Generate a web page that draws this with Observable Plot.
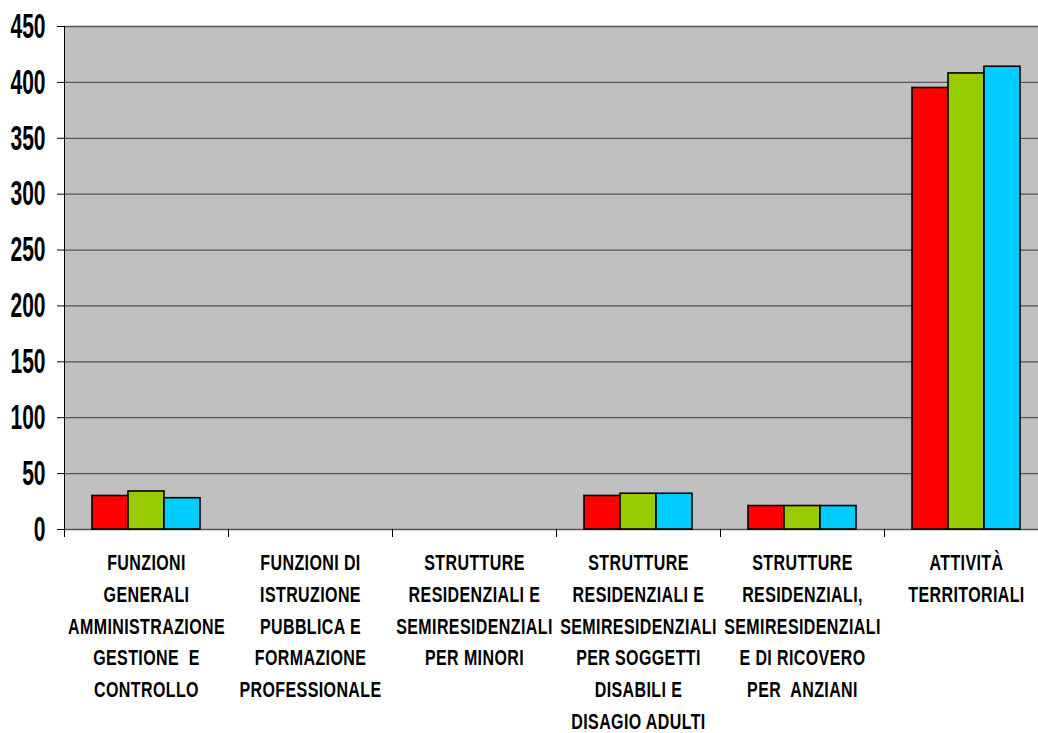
<!DOCTYPE html>
<html>
<head>
<meta charset="utf-8">
<script src="https://cdn.jsdelivr.net/npm/d3@7"></script>
<script src="https://cdn.jsdelivr.net/npm/@observablehq/plot@0.6"></script>
<style>
  html, body { margin: 0; padding: 0; background: #fff; overflow: hidden; }
</style>
</head>
<body>
<div id="chart"></div>
<script>
const categories = [
  "Funzioni generali amministrazione gestione e controllo",
  "Funzioni di istruzione pubblica e formazione professionale",
  "Strutture residenziali e semiresidenziali per minori",
  "Strutture residenziali e semiresidenziali per soggetti disabili e disagio adulti",
  "Strutture residenziali, semiresidenziali e di ricovero per anziani",
  "Attività territoriali"
];
const categoryLabels = [
  "FUNZIONI\nGENERALI\nAMMINISTRAZIONE\nGESTIONE  E\nCONTROLLO",
  "FUNZIONI DI\nISTRUZIONE\nPUBBLICA E\nFORMAZIONE\nPROFESSIONALE",
  "STRUTTURE\nRESIDENZIALI E\nSEMIRESIDENZIALI\nPER MINORI",
  "STRUTTURE\nRESIDENZIALI E\nSEMIRESIDENZIALI\nPER SOGGETTI\nDISABILI E\nDISAGIO ADULTI",
  "STRUTTURE\nRESIDENZIALI,\nSEMIRESIDENZIALI\nE DI RICOVERO\nPER  ANZIANI",
  "ATTIVITÀ\nTERRITORIALI"
];
const seriesNames = ["Serie 1", "Serie 2", "Serie 3"];
const seriesColors = ["#FF0000", "#99CC00", "#00CCFF"];
const serie1 = [30, 0, 0, 30, 21, 395];
const serie2 = [34, 0, 0, 32, 21, 408];
const serie3 = [28, 0, 0, 32, 21, 414];
const yTicks = [0, 50, 100, 150, 200, 250, 300, 350, 400, 450];

const seriesValues = [serie1, serie2, serie3];
const data = categories.flatMap((c, i) =>
  seriesNames.map((s, j) => ({cat: c, series: s, value: seriesValues[j][i]}))
);
const labelOf = Object.fromEntries(categories.map((c, i) => [c, categoryLabels[i]]));

const W = 1048, H = 733, mT = 26, mB = 204, mL = 64, mR = 0;
const innerH = H - mT - mB;

const svg = Plot.plot({
  width: W,
  height: H,
  marginLeft: mL,
  marginRight: mR,
  marginTop: mT,
  marginBottom: mB,
  style: {fontFamily: "'Liberation Sans', Arial, sans-serif", background: "#fff", color: "#000"},
  fx: {domain: categories, padding: 0, round: true, axis: null, label: null},
  x: {domain: seriesNames, paddingInner: 0, paddingOuter: 0.75, axis: null},
  y: {domain: [0, 450], axis: null},
  color: {domain: seriesNames, range: seriesColors},
  marks: [
    Plot.frame({fill: "#C0C0C0", shapeRendering: "crispEdges"}),
    Plot.gridY(yTicks, {stroke: "#555555", strokeOpacity: 1, strokeWidth: 1.3}),
    Plot.barY(data, {
      fx: "cat", x: "series", y: "value", fill: "series",
      stroke: "#000", strokeWidth: 1.6,
      filter: d => d.value > 0
    }),
    Plot.frame({anchor: "left", stroke: "#000", strokeWidth: 1, insetTop: innerH, insetBottom: -7}),
    Plot.frame({anchor: "left", stroke: "#000", strokeWidth: 1, insetBottom: -7, facetAnchor: "left"}),
    Plot.axisY(yTicks, {
      anchor: "left",
      tickSize: 7,
      tickPadding: 12,
      stroke: "#000",
      fill: "#000",
      fontSize: 21,
      fontWeight: "bold",
      fontFamily: "'Liberation Sans', Arial, sans-serif",
      tickFormat: d => String(d),
      label: null
    }),
    Plot.text(categories, {
      fx: d => d,
      text: d => labelOf[d],
      frameAnchor: "bottom",
      lineAnchor: "top",
      dy: 18,
      lineHeight: 1.43,
      fontSize: 16,
      fontWeight: "bold",
      fill: "#000",
      fontFamily: "'Liberation Sans', Arial, sans-serif"
    })
  ]
});

svg.style.maxWidth = "none";
svg.style.height = H + "px";

// vertical stretch of the text glyphs, as in the reference rendering
const stretch = (sel, sy) => sel.each(function() {
  const t = this.getAttribute("transform") || "";
  this.setAttribute("transform", t + ` scale(1,${sy})`);
});
stretch(d3.select(svg).selectAll("g[aria-label='y-axis tick label'] text"), 1.67);
const labelTexts = d3.select(svg).selectAll("g[aria-label='text'] text");
stretch(labelTexts, 1.39);
labelTexts.style("letter-spacing", "0.4px");

document.getElementById("chart").appendChild(svg);
</script>
</body>
</html>
